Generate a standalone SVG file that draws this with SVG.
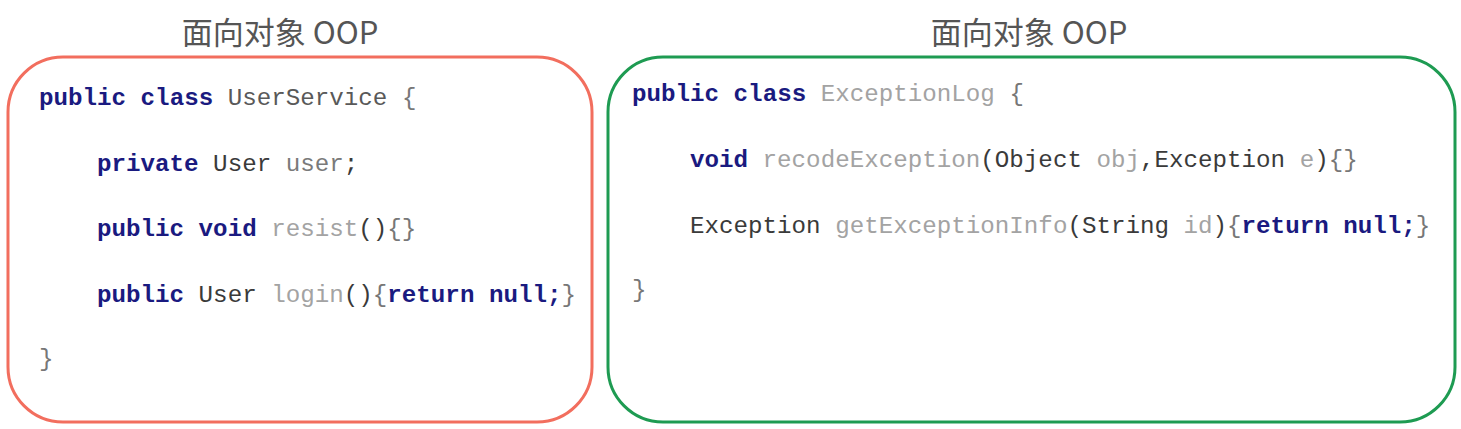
<svg xmlns="http://www.w3.org/2000/svg" width="1461" height="429" viewBox="0 0 1461 429">
<style>
.title{font-family:"Noto Sans CJK SC","Noto Sans",sans-serif;font-size:31px;fill:#555555;text-anchor:middle}
.code{font-family:"Liberation Mono","Courier New",monospace;font-size:24.2px;fill:#3A3A3A}
.kw{font-weight:bold;fill:#1A1A80}
.id{fill:#A3A3A3}
.cls{fill:#595959}
.fld{fill:#7A7A7A}
.br{fill:#777777}
.box{fill:#FFFFFF;stroke-width:3}
</style>
<rect width="1461" height="429" fill="#FFFFFF"/>
<g id="left-node">
<text class="title" x="280" y="44">面向对象 OOP</text>
<rect class="box" x="8" y="57" width="584" height="365" rx="55" ry="55" stroke="#F26E5E"/>
<text class="code" x="39" y="105"><tspan class="kw">public class</tspan> <tspan class="cls">UserService</tspan> <tspan class="br">{</tspan></text>
<text class="code" x="97" y="171"><tspan class="kw">private</tspan> User <tspan class="fld">user</tspan>;</text>
<text class="code" x="97" y="236"><tspan class="kw">public void</tspan> <tspan class="id">resist</tspan>()<tspan class="br">{}</tspan></text>
<text class="code" x="97" y="302"><tspan class="kw">public</tspan> User <tspan class="id">login</tspan>()<tspan class="br">{</tspan><tspan class="kw">return null;</tspan><tspan class="br">}</tspan></text>
<text class="code" x="39" y="366"><tspan class="br">}</tspan></text>
</g>
<g id="right-node">
<text class="title" x="1029" y="44">面向对象 OOP</text>
<rect class="box" x="608" y="57" width="847" height="365" rx="55" ry="55" stroke="#1E9B52"/>
<text class="code" x="632" y="101"><tspan class="kw">public class</tspan> <tspan class="id">ExceptionLog</tspan> <tspan class="br">{</tspan></text>
<text class="code" x="690" y="167"><tspan class="kw">void</tspan> <tspan class="id">recodeException</tspan>(Object <tspan class="id">obj</tspan>,Exception <tspan class="id">e</tspan>)<tspan class="br">{}</tspan></text>
<text class="code" x="690" y="233">Exception <tspan class="id">getExceptionInfo</tspan>(String <tspan class="id">id</tspan>)<tspan class="br">{</tspan><tspan class="kw">return null;</tspan><tspan class="br">}</tspan></text>
<text class="code" x="632" y="297"><tspan class="br">}</tspan></text>
</g>
<g id="connectors"></g>
</svg>
